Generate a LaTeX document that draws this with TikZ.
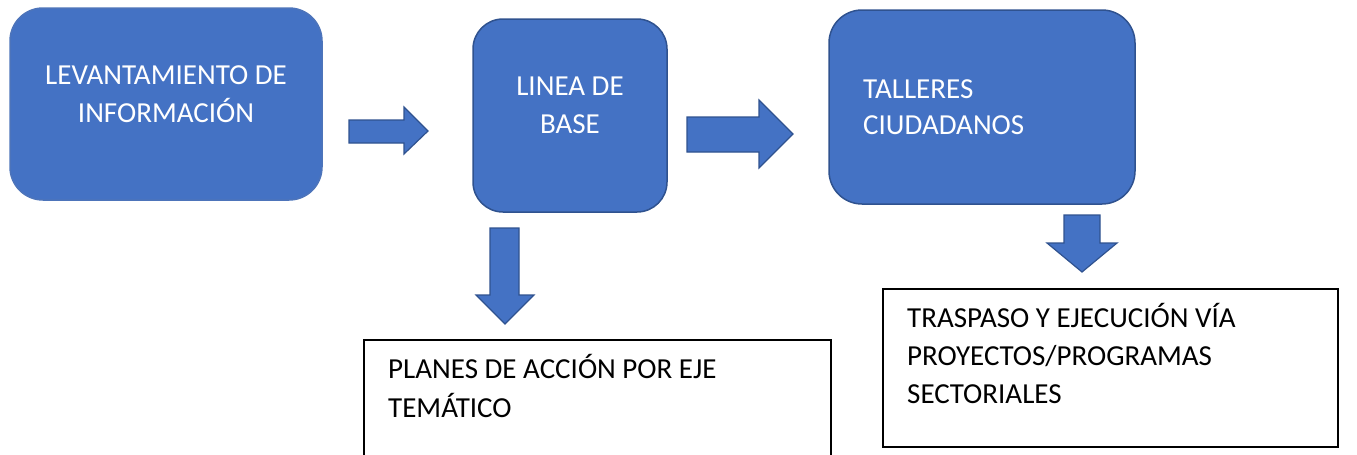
\documentclass[tikz,border=0pt]{standalone}
\usepackage{fontspec}
\setmainfont{Carlito}
\definecolor{boxblue}{HTML}{4472C4}
\definecolor{boxedge}{HTML}{2F528F}
\tikzset{
  bluebox/.style={fill=boxblue, draw=boxedge, line width=1.5pt},
  softbox/.style={fill=boxblue, draw=boxblue!85!gray, line width=1.5pt},
  whitebox/.style={draw=black, line width=1.5pt, fill=white},
  blockarrow/.style={fill=boxblue, draw=boxedge, line width=1.2pt, line join=miter},
  boxtext/.style={inner sep=0pt, font=\fontsize{29}{38}\selectfont},
}
\begin{document}
\begin{tikzpicture}[x=1pt,y=-1pt]
\useasboundingbox (0,0) rectangle (1357,455);
\clip (0,0) rectangle (1357,455);
% boxes
\draw[softbox, rounded corners=33pt] (10,8) rectangle (322,200);
\node[boxtext, text=white, align=center, anchor=base] (lev) at (166,122) {LEVANTAMIENTO DE\\INFORMACIÓN};
\draw[bluebox, rounded corners=30pt] (473,19) rectangle (667,212);
\node[boxtext, text=white, align=center, anchor=base] (lin) at (570,133) {LINEA DE\\BASE};
\draw[bluebox, rounded corners=33pt] (829,10) rectangle (1135,204);
\node[boxtext, text=white, align=left, anchor=base west, font=\fontsize{29}{36}\selectfont] (tal) at (863,134) {TALLERES\\CIUDADANOS};
\draw[whitebox] (883,289) rectangle (1338,447);
\node[boxtext, text=black, align=left, anchor=base west] (tra) at (907,403) {TRASPASO Y EJECUCIÓN VÍA\\PROYECTOS/PROGRAMAS\\SECTORIALES};
\draw[whitebox] (364,340) rectangle (831,475);
\node[boxtext, text=black, align=left, anchor=base west, font=\fontsize{29}{39}\selectfont] (pla) at (388,417) {PLANES DE ACCIÓN POR EJE\\TEMÁTICO};
% block arrows
\draw[blockarrow] (349,120) -- (404,120) -- (404,107) -- (428,131) -- (404,154) -- (404,143) -- (349,143) -- cycle;
\draw[blockarrow] (687,117) -- (759,117) -- (759,100) -- (793,134) -- (759,168) -- (759,152) -- (687,152) -- cycle;
\draw[blockarrow] (490,228) -- (519,228) -- (519,295) -- (534,295) -- (505,324) -- (476,295) -- (490,295) -- cycle;
\draw[blockarrow] (1064,215) -- (1100,215) -- (1100,243) -- (1117,243) -- (1082,272) -- (1047,243) -- (1064,243) -- cycle;
\end{tikzpicture}
\end{document}
